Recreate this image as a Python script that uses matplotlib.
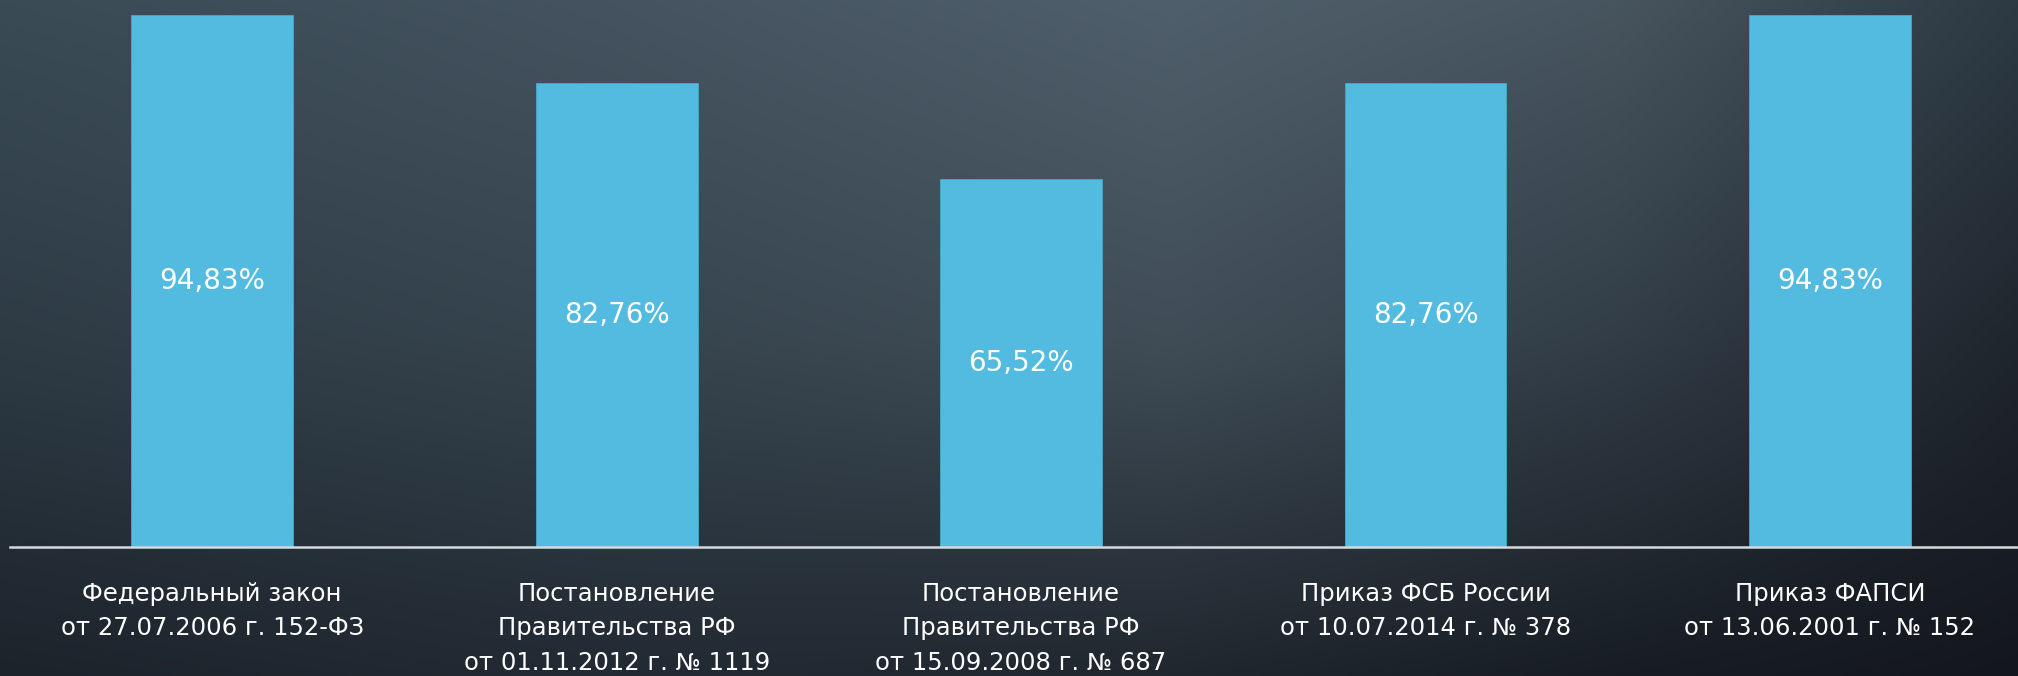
import numpy as np
import matplotlib
matplotlib.use("Agg")
import matplotlib.pyplot as plt
from matplotlib.colors import to_rgb

# данные
categories = [
    "Федеральный закон\nот 27.07.2006 г. 152-ФЗ",
    "Постановление\nПравительства РФ\nот 01.11.2012 г. № 1119",
    "Постановление\nПравительства РФ\nот 15.09.2008 г. № 687",
    "Приказ ФСБ России\nот 10.07.2014 г. № 378",
    "Приказ ФАПСИ\nот 13.06.2001 г. № 152",
]
values = [94.83, 82.76, 65.52, 82.76, 94.83]
value_labels = ["94,83%", "82,76%", "65,52%", "82,76%", "94,83%"]

W, H = 2018, 676
fig = plt.figure(figsize=(W / 100, H / 100), dpi=100)

# фон: плавный градиент по сетке цветов
grid_x = [0, 0.3, 0.58, 0.8, 1]
grid_y = [0, 0.5, 1]
grid_c = [
    ["#3a4b56", "#44535f", "#4f5f6b", "#47555f", "#2d3a44"],
    ["#2e3b45", "#36444e", "#404d57", "#323d47", "#20262e"],
    ["#1c232b", "#222a33", "#20272f", "#181d24", "#13161d"],
]
g = np.array([[to_rgb(c) for c in row] for row in grid_c])
xs = np.linspace(0, 1, 600)
ys = np.linspace(0, 1, 200)
rows = np.array([[np.interp(xs, grid_x, g[r, :, k]) for k in range(3)] for r in range(3)])
img = np.zeros((len(ys), len(xs), 3))
for k in range(3):
    for j in range(len(xs)):
        img[:, j, k] = np.interp(ys, grid_y, rows[:, k, j])
bg = fig.add_axes([0, 0, 1, 1])
bg.imshow(img, aspect="auto", extent=[0, 1, 1, 0], interpolation="bilinear")
bg.set_xlim(0, 1)
bg.set_ylim(1, 0)
bg.axis("off")

ax = fig.add_axes([10 / W, (H - 547) / H, (W - 10) / W, 547 / H])
ax.patch.set_alpha(0)
x = np.arange(len(values))
ax.bar(x, values, width=0.4, color="#53bbdf", edgecolor="#4aa8c9", linewidth=0.6, zorder=2)

for xi, v, lab in zip(x, values, value_labels):
    ax.text(xi, v / 2, lab, ha="center", va="center", color="white",
            fontsize=20, family="DejaVu Sans", zorder=3)

ax.set_xlim(-0.5, 4.465)
ax.set_ylim(0, 97.5)
ax.set_xticks(x)
ax.set_xticklabels(categories, color="white", fontsize=17.5, linespacing=1.56, va="top")
ax.tick_params(axis="x", length=0, pad=25)
ax.set_yticks([])
for s in ["top", "left", "right"]:
    ax.spines[s].set_visible(False)
ax.spines["bottom"].set_color("#d5dadd")
ax.spines["bottom"].set_linewidth(1.8)

fig.savefig("out.png", dpi=100)
